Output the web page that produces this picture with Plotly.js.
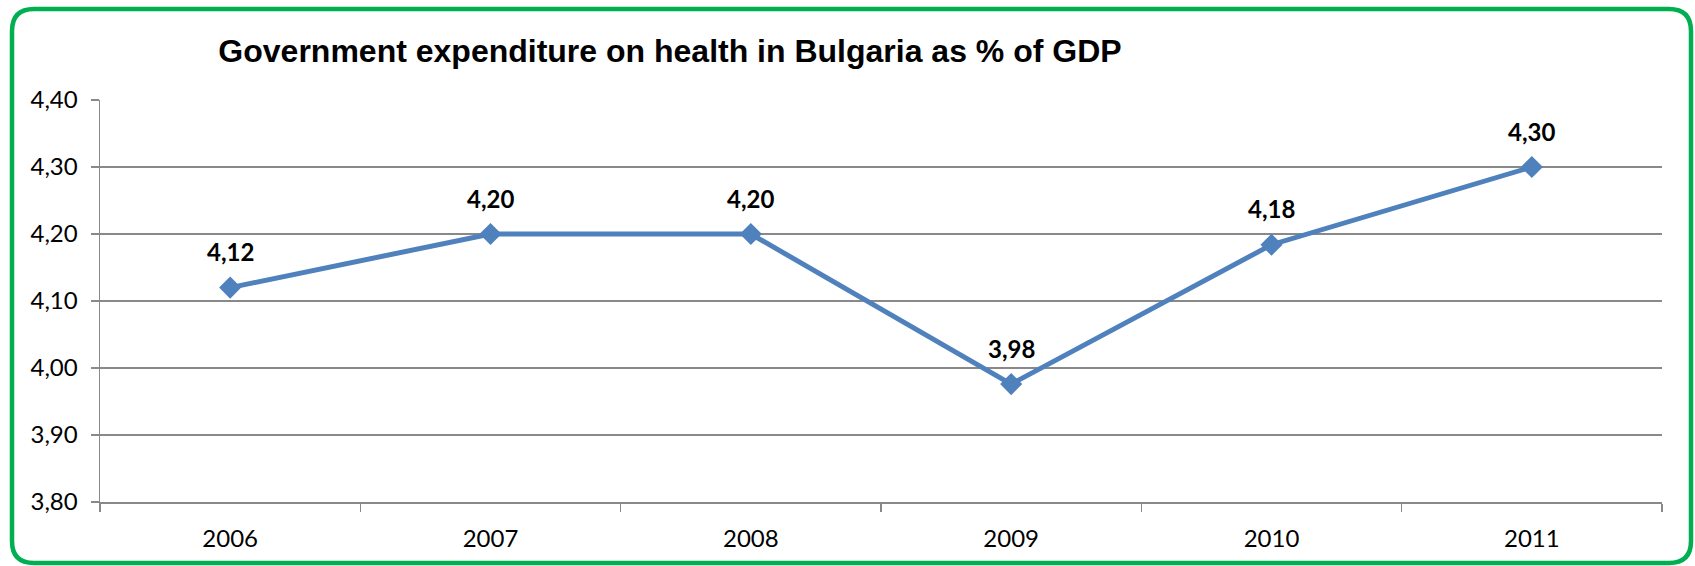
<!DOCTYPE html>
<html>
<head>
<meta charset="utf-8">
<script src="https://cdn.plot.ly/plotly-3.0.1.min.js"></script>
<style>
  html, body { margin: 0; padding: 0; background: #ffffff; }
  #chart { width: 1695px; height: 566px; }
</style>
</head>
<body>
<div id="chart"></div>
<script>
// ---- data ----
const years = ["2006", "2007", "2008", "2009", "2010", "2011"];
const expenditure = [4.12, 4.20, 4.20, 3.976, 4.184, 4.30];
const dataLabels = ["4,12", "4,20", "4,20", "3,98", "4,18", "4,30"];
const yTicks = [3.8, 3.9, 4.0, 4.1, 4.2, 4.3, 4.4];
const chartTitle = "Government expenditure on health in Bulgaria as % of GDP";

// ---- layout geometry ----
const W = 1695, H = 566;
const M = { l: 100, r: 33, t: 100, b: 64 };
const PW = W - M.l - M.r, PH = H - M.t - M.b;
const px = v => (v - M.l) / PW;
const py = v => (H - M.b - v) / PH;

// rounded green frame
const L = 12, R = 1691, T = 9, B = 563, rad = 22;
const framePath =
  `M ${px(L)},${py(T + rad)} Q ${px(L)},${py(T)} ${px(L + rad)},${py(T)} ` +
  `L ${px(R - rad)},${py(T)} Q ${px(R)},${py(T)} ${px(R)},${py(T + rad)} ` +
  `L ${px(R)},${py(B - rad)} Q ${px(R)},${py(B)} ${px(R - rad)},${py(B)} ` +
  `L ${px(L + rad)},${py(B)} Q ${px(L)},${py(B)} ${px(L)},${py(B - rad)} Z`;

const trace = {
  type: "scatter",
  mode: "lines+markers",
  x: years,
  y: expenditure,
  line: { color: "#4F81BD", width: 5 },
  marker: { symbol: "diamond", size: 17, color: "#4F81BD" },
  hoverinfo: "skip",
  showlegend: false
};

const labelFont = "Lato, 'Open Sans', sans-serif";

// category index positions for the labels
const annotations = years.map((yr, i) => ({
  x: i, y: expenditure[i], xref: "x", yref: "y",
  text: dataLabels[i], showarrow: false, yshift: 36,
  font: { family: labelFont, size: 24, color: "#000000", weight: "bold" }
}));

const gridColor = "#898989";

const layout = {
  width: W, height: H,
  margin: M,
  paper_bgcolor: "#ffffff",
  plot_bgcolor: "#ffffff",
  separators: ",.",
  showlegend: false,
  title: {
    text: "<b>" + chartTitle + "</b>",
    font: { family: "'Liberation Sans', Arial, sans-serif", size: 32, color: "#000000" },
    x: px(670), xref: "paper", xanchor: "center",
    y: 1 - 51 / H, yref: "container", yanchor: "middle"
  },
  xaxis: {
    type: "category",
    categoryorder: "array", categoryarray: years,
    range: [-0.5, years.length - 0.5],
    tickson: "boundaries",
    ticks: "outside", ticklen: 8, tickwidth: 1.5, tickcolor: gridColor,
    showline: true, linecolor: gridColor, linewidth: 1.5,
    showgrid: false, zeroline: false,
    tickangle: 0,
    ticklabelstandoff: 15,
    tickfont: { family: labelFont, size: 24, color: "#000000" },
    fixedrange: true
  },
  yaxis: {
    range: [3.8, 4.4],
    tickvals: yTicks,
    tickformat: ".2f",
    ticks: "outside", ticklen: 8, tickwidth: 1.5, tickcolor: gridColor,
    showline: true, linecolor: gridColor, linewidth: 1.5,
    showgrid: true, gridcolor: gridColor, gridwidth: 1.5,
    zeroline: false,
    ticklabelstandoff: 8,
    tickfont: { family: labelFont, size: 24, color: "#000000" },
    fixedrange: true
  },
  annotations: annotations,
  shapes: [{
    type: "path", xref: "paper", yref: "paper",
    path: framePath,
    line: { color: "#00B050", width: 4.5 },
    layer: "above"
  }]
};

Plotly.newPlot("chart", [trace], layout, { displayModeBar: false, staticPlot: true });
</script>
</body>
</html>
